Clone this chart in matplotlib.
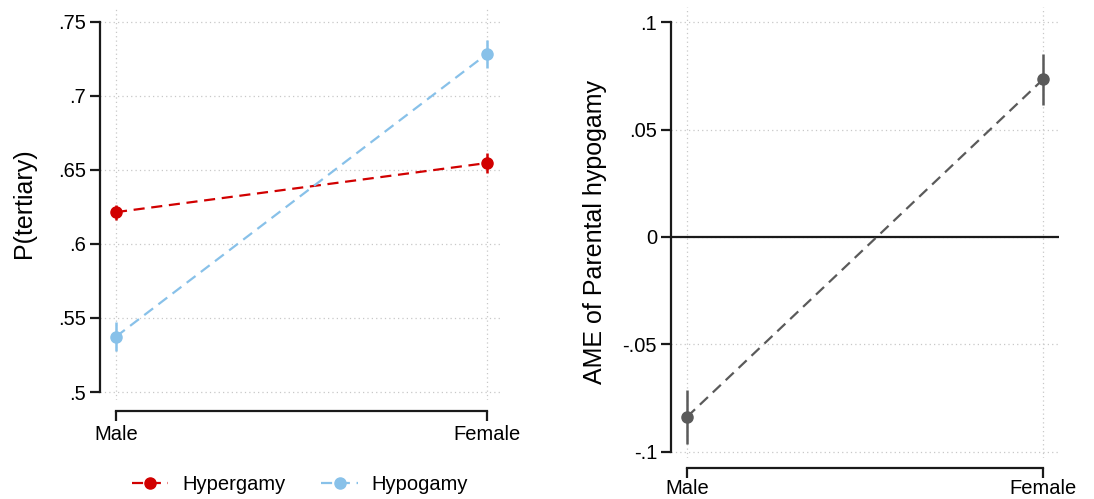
import matplotlib.pyplot as plt
from matplotlib.lines import Line2D
import numpy as np

plt.rcParams['font.family'] = ['Liberation Sans', 'DejaVu Sans']

sex = ['Male', 'Female']

# predicted probability of tertiary education, by sex of child
hyper_p = [0.6215, 0.6547]
hyper_ci = [0.0050, 0.0068]
hypo_p = [0.5374, 0.7284]
hypo_ci = [0.0100, 0.0095]

# average marginal effect of parental hypogamy
ame = [-0.0837, 0.0733]
ame_ci = [0.0126, 0.0119]

left_ticks = [0.5, 0.55, 0.6, 0.65, 0.7, 0.75]
left_labels = ['.5', '.55', '.6', '.65', '.7', '.75']
right_ticks = [-0.1, -0.05, 0, 0.05, 0.1]
right_labels = ['-.1', '-.05', '0', '.05', '.1']

red = '#d10000'
blue = '#88c1e9'
grey = '#5a5a5a'
axcol = '#1a1a1a'
dash = (0, (5, 3))


def style_axis(ax, yticks, ylabels, ybounds, xoffset):
    ax.set_yticks(yticks)
    ax.set_yticklabels(ylabels)
    ax.set_xticks([0, 1])
    ax.set_xticklabels(sex)
    for s in ['top', 'right']:
        ax.spines[s].set_visible(False)
    ax.spines['left'].set_bounds(*ybounds)
    ax.spines['bottom'].set_bounds(0, 1)
    ax.spines['bottom'].set_position(('outward', xoffset))
    for s in ['left', 'bottom']:
        ax.spines[s].set_linewidth(1.6)
        ax.spines[s].set_color(axcol)
    ax.tick_params(axis='both', length=7, width=1.6, color=axcol,
                   labelsize=14.5, pad=3)
    ax.grid(True, linestyle=(0, (1, 2.5)), color='#c8c8c8', linewidth=0.9)
    ax.set_axisbelow(True)


fig = plt.figure(figsize=(10.94, 4.99), dpi=100)
x = np.arange(len(sex))

ax1 = fig.add_axes([0.0914, 0.1984, 0.3656, 0.7876])
ax1.errorbar(x, hyper_p, yerr=hyper_ci, color=red, linestyle=dash,
             linewidth=1.6, marker='o', markersize=8, elinewidth=1.8,
             capsize=0)
ax1.errorbar(x, hypo_p, yerr=hypo_ci, color=blue, linestyle=dash,
             linewidth=1.6, marker='o', markersize=8, elinewidth=1.8,
             capsize=0)
ax1.set_xlim(-0.0431, 1.035)
ax1.set_ylim(0.4946, 0.7601)
style_axis(ax1, left_ticks, left_labels, (0.5, 0.75), 8)
ax1.set_ylabel('P(tertiary)', fontsize=18, labelpad=16)

handles = [Line2D([], [], color=red, linestyle=dash, linewidth=1.6,
                  marker='o', markersize=8),
           Line2D([], [], color=blue, linestyle=dash, linewidth=1.6,
                  marker='o', markersize=8)]
ax1.legend(handles, ['Hypergamy', 'Hypogamy'], loc='upper center',
           bbox_to_anchor=(0.5, -0.145), ncol=2, frameon=False,
           fontsize=14.5, handlelength=1.8, numpoints=1,
           columnspacing=1.8, handletextpad=0.7)

ax2 = fig.add_axes([0.6133, 0.0822, 0.3547, 0.9038])
ax2.axhline(0, color=axcol, linewidth=1.6, zorder=1)
ax2.errorbar(x, ame, yerr=ame_ci, color=grey, linestyle=dash,
             linewidth=1.6, marker='o', markersize=8, elinewidth=1.8,
             capsize=0, zorder=3)
ax2.set_xlim(-0.045, 1.045)
ax2.set_ylim(-0.1028, 0.107)
style_axis(ax2, right_ticks, right_labels, (-0.1, 0.1), 7)
ax2.tick_params(axis='x', pad=1)
ax2.set_ylabel('AME of Parental hypogamy', fontsize=18, labelpad=11)

fig.savefig('out.png', dpi=100)
